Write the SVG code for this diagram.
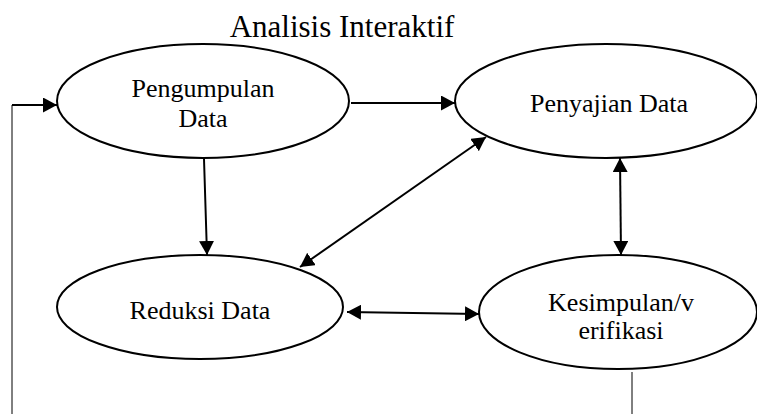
<svg xmlns="http://www.w3.org/2000/svg" width="757" height="414" viewBox="0 0 757 414">
<style>
.node ellipse{fill:#fff;stroke:#000;stroke-width:2}
text{font-family:"Liberation Serif","Times New Roman",serif;fill:#000;text-anchor:middle}
.lbl{font-size:26px}
.conn line,.conn polyline{stroke:#000;stroke-width:2;fill:none}
.thin{stroke-width:1 !important}
</style>
<defs>
<marker id="ah" markerUnits="userSpaceOnUse" markerWidth="14" markerHeight="15" refX="14" refY="7.5" orient="auto-start-reverse" viewBox="0 0 14 15">
<path d="M0,0 L14,7.5 L0,15 z" fill="#000"/>
</marker>
</defs>
<rect width="757" height="414" fill="#fff"/>
<text x="342" y="37" style="font-size:31px">Analisis Interaktif</text>
<g id="pengumpulan" class="node">
<ellipse cx="203" cy="101" rx="146" ry="57"/>
<text class="lbl" x="203" y="97">Pengumpulan</text>
<text class="lbl" x="203" y="127">Data</text>
</g>
<g id="penyajian" class="node">
<ellipse cx="606" cy="101" rx="151" ry="57"/>
<text class="lbl" x="609" y="112">Penyajian Data</text>
</g>
<g id="reduksi" class="node">
<ellipse cx="200" cy="307" rx="143" ry="52"/>
<text class="lbl" x="200" y="319">Reduksi Data</text>
</g>
<g id="kesimpulan" class="node">
<ellipse cx="618" cy="312" rx="139" ry="57"/>
<text class="lbl" x="621" y="311">Kesimpulan/v</text>
<text class="lbl" x="621" y="339">erifikasi</text>
</g>
<g id="connectors" class="conn">
<line class="thin" x1="12" y1="105" x2="12" y2="414"/>
<line x1="12" y1="105" x2="57" y2="105" marker-end="url(#ah)"/>
<line x1="351" y1="103" x2="455" y2="103" marker-end="url(#ah)"/>
<line x1="204" y1="159" x2="207" y2="255" marker-end="url(#ah)"/>
<line x1="300" y1="267" x2="486" y2="137" marker-start="url(#ah)" marker-end="url(#ah)"/>
<line x1="620" y1="158" x2="621" y2="255" marker-start="url(#ah)" marker-end="url(#ah)"/>
<line x1="347" y1="312" x2="479" y2="314" marker-start="url(#ah)" marker-end="url(#ah)"/>
<line class="thin" x1="632" y1="372" x2="632" y2="414"/>
</g>
</svg>
